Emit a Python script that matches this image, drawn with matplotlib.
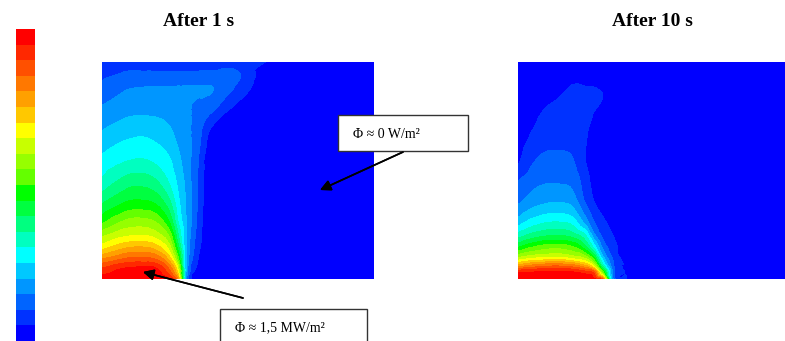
import numpy as np
import matplotlib
matplotlib.use("Agg")
import matplotlib.pyplot as plt
import matplotlib.tri as mtri
from matplotlib.colors import ListedColormap, BoundaryNorm
from matplotlib.patches import Rectangle

# colour bands of the scale, bottom (0 W/m2) to top (1.5 MW/m2)
band_colors = ["#0000FF", "#0032FF", "#0064FF", "#0096FF", "#00C8FF",
               "#00FFFF", "#00FFC0", "#00FF80", "#00FF40", "#00FF00",
               "#64FF00", "#96FF00", "#C8FF00", "#FFFF00", "#FFC800",
               "#FFA000", "#FF7800", "#FF5000", "#FF2800", "#FF0000"]
levels = np.arange(0, 21)  # one step = 75 kW/m2

titles = ["After 1 s", "After 10 s"]

# positions across the domain (fraction of width)
x_pos = [0, .05, .10, .15, .20, .25, .28, .31, .35, .40, .50, .60, .70, 1.0]

# heat flux after 1 s, rows from bottom to top (in colour steps)
y_pos_1s = [0, .05, .10, .15, .20, .27, .35, .45, .55, .65, .72, .80, .88, .94, 1.0]
phi_1s = [
    [19.6, 19.8, 20.0, 20.0, 20.0, 18.8, 15.5, 3.5, 0.3, 0, 0, 0, 0, 0],
    [18.0, 18.7, 19.1, 19.2, 19.0, 16.5, 12.7, 3.9, 0.8, 0, 0, 0, 0, 0],
    [15.6, 16.3, 16.9, 16.95, 16.5, 14.0, 10.0, 4.02, 1.2, 0, 0, 0, 0, 0],
    [13.4, 14.2, 14.8, 14.9, 14.3, 12.1, 8.3, 4.02, 1.5, 0, 0, 0, 0, 0],
    [11.8, 12.5, 12.95, 13.05, 12.5, 10.6, 7.15, 4.02, 1.7, 0, 0, 0, 0, 0],
    [9.6, 10.5, 11.2, 11.25, 10.75, 8.65, 5.9, 4.0, 1.9, 0, 0, 0, 0, 0],
    [7.95, 8.65, 9.2, 9.25, 8.85, 7.2, 5.3, 3.9, 2.0, 0, 0, 0, 0, 0],
    [6.2, 6.95, 7.55, 7.6, 7.1, 5.8, 4.75, 3.7, 2.05, 0, 0, 0, 0, 0],
    [5.25, 5.65, 5.95, 6.05, 5.7, 5.05, 4.25, 3.5, 2.2, 0, 0, 0, 0, 0],
    [4.3, 4.7, 4.95, 5.05, 4.8, 4.3, 3.8, 3.3, 2.5, 0.6, 0, 0, 0, 0],
    [3.67, 4.0, 4.25, 4.3, 4.2, 3.9, 3.55, 3.2, 2.7, 1.3, 0, 0, 0, 0],
    [3.0, 3.3, 3.55, 3.6, 3.6, 3.45, 3.2, 3.1, 2.85, 2.5, 0.8, 0, 0, 0],
    [2.2, 2.65, 2.95, 3.05, 3.08, 3.1, 3.1, 3.1, 3.1, 3.08, 1.8, 0.2, 0, 0],
    [1.8, 2.0, 2.2, 2.2, 2.2, 2.2, 2.2, 2.2, 2.2, 2.2, 2.1, 0.5, 0, 0],
    [1.4, 1.5, 1.6, 1.6, 1.6, 1.6, 1.6, 1.6, 1.6, 1.6, 1.6, 1.0, 0, 0],
]

# heat flux after 10 s
y_pos_10s = [0, .03, .06, .10, .15, .20, .27, .35, .45, .55, .65, .75, .85, .92, 1.0]
phi_10s = [
    [19.8, 19.9, 20.0, 20.0, 20.0, 19.8, 19.3, 17.0, 3.0, 1.0, 0, 0, 0, 0],
    [18.9, 19.1, 19.3, 19.3, 19.2, 18.5, 17.5, 11.0, 2.6, 0.9, 0, 0, 0, 0],
    [15.6, 16.4, 16.9, 17.0, 16.6, 15.2, 12.8, 7.0, 2.2, 0.8, 0, 0, 0, 0],
    [11.9, 12.6, 12.9, 13.0, 12.5, 11.4, 9.0, 4.5, 1.8, 0.6, 0, 0, 0, 0],
    [8.8, 9.8, 10.4, 10.5, 10.0, 8.0, 5.5, 2.8, 1.4, 0.4, 0, 0, 0, 0],
    [6.5, 7.4, 7.9, 8.05, 7.6, 6.0, 3.3, 1.8, 1.0, 0.2, 0, 0, 0, 0],
    [4.3, 5.2, 5.7, 5.8, 5.4, 3.3, 1.9, 1.2, 0.6, 0, 0, 0, 0, 0],
    [2.9, 3.6, 3.95, 4.05, 3.7, 1.9, 1.05, 0.6, 0.2, 0, 0, 0, 0, 0],
    [2.02, 2.6, 2.9, 2.9, 2.7, 1.4, 0.6, 0.2, 0, 0, 0, 0, 0, 0],
    [0.8, 1.8, 2.25, 2.25, 2.05, 0.95, 0.4, 0.1, 0, 0, 0, 0, 0, 0],
    [0.4, 1.15, 1.6, 1.7, 1.65, 1.05, 0.6, 0.2, 0, 0, 0, 0, 0, 0],
    [0.1, 0.7, 1.2, 1.45, 1.5, 1.3, 0.9, 0.5, 0, 0, 0, 0, 0, 0],
    [0, 0.2, 0.6, 0.9, 1.3, 1.4, 1.3, 1.02, 0.3, 0, 0, 0, 0, 0],
    [0, 0, 0.1, 0.4, 0.8, 0.6, 0.6, 0.4, 0, 0, 0, 0, 0, 0],
    [0, 0, 0, 0, 0, 0, 0, 0, 0, 0, 0, 0, 0, 0],
]

W, H = 785, 341
cmap = ListedColormap(band_colors)
norm = BoundaryNorm(levels, cmap.N)


def fx(x):
    return x / W


def fy(y):
    return 1 - y / H


def draw_field(ax, ys, phi):
    X, Y = np.meshgrid(x_pos, ys)
    z = np.array(phi, dtype=float).ravel()
    tri = mtri.Triangulation(X.ravel(), Y.ravel())
    interp = mtri.CubicTriInterpolator(tri, z, kind="geom")
    tri_f, z_f = mtri.UniformTriRefiner(tri).refine_field(z, triinterpolator=interp, subdiv=4)
    z_f = np.clip(z_f, 0, 19.99)
    cs = ax.tricontourf(tri_f, z_f, levels=levels, cmap=cmap, norm=norm)
    ax.set_xlim(0, 1)
    ax.set_ylim(0, 1)
    ax.axis("off")
    return cs


fig = plt.figure(figsize=(W / 100, H / 100), dpi=100)

# panels (pixel boxes of the original)
ax1 = fig.add_axes([fx(102), fy(279), 272 / W, 217 / H])
cs = draw_field(ax1, y_pos_1s, phi_1s)
ax2 = fig.add_axes([fx(518), fy(279), 272 / W, 217 / H])
draw_field(ax2, y_pos_10s, phi_10s)

serif = ["Liberation Serif", "DejaVu Serif"]
fig.text(fx(199), fy(26), titles[0], ha="center", va="baseline",
         fontsize=14, fontweight="bold", family=serif)
fig.text(fx(652), fy(26), titles[1], ha="center", va="baseline",
         fontsize=14, fontweight="bold", family=serif)

# colour scale without ticks
cax = fig.add_axes([fx(16), 0.0, 19 / W, (H - 29) / H])
cb = fig.colorbar(cs, cax=cax, ticks=[])
cb.minorticks_off()
cax.tick_params(which="both", length=0)
cb.outline.set_visible(False)

# annotation boxes
fig.add_artist(Rectangle((fx(338), fy(151)), 130 / W, 36 / H, transform=fig.transFigure,
                         facecolor="white", edgecolor="#333333", lw=1))
fig.text(fx(353), fy(134), "Φ ≈ 0 W/m²", ha="left", va="center", fontsize=10, family=serif)
fig.add_artist(Rectangle((fx(220), fy(345)), 147 / W, 36 / H, transform=fig.transFigure,
                         facecolor="white", edgecolor="#333333", lw=1))
fig.text(fx(235), fy(328), "Φ ≈ 1,5 MW/m²", ha="left", va="center", fontsize=10, family=serif)

arrow = dict(arrowstyle="-|>", mutation_scale=16, lw=1.2, color="black", shrinkA=0, shrinkB=0)
fig.add_artist(plt.annotate("", xy=(fx(320), fy(190)), xytext=(fx(403), fy(152)),
                            xycoords="figure fraction", arrowprops=arrow))
fig.add_artist(plt.annotate("", xy=(fx(143), fy(272)), xytext=(fx(243), fy(298)),
                            xycoords="figure fraction", arrowprops=arrow))

fig.savefig("out.png", dpi=100)
